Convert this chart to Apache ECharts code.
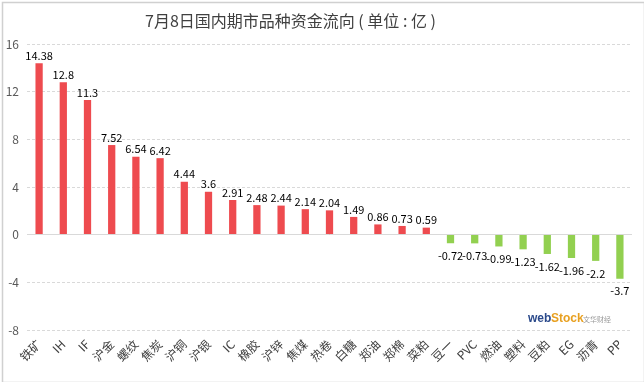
<!DOCTYPE html>
<html><head><meta charset="utf-8">
<script src="https://cdn.jsdelivr.net/npm/echarts@6/dist/echarts.min.js"></script>
<style>html,body{margin:0;padding:0;background:#fff}#c{width:644px;height:382px}</style>
</head><body><div id="c"></div>
<script>
const categories = ['铁矿','IH','IF','沪金','螺纹','焦炭','沪铜','沪银','IC','橡胶','沪锌','焦煤','热卷','白糖','郑油','郑棉','菜粕','豆一','PVC','燃油','塑料','豆粕','EG','沥青','PP'];
const values = [14.38,12.8,11.3,7.52,6.54,6.42,4.44,3.6,2.91,2.48,2.44,2.14,2.04,1.49,0.86,0.73,0.59,-0.72,-0.73,-0.99,-1.23,-1.62,-1.96,-2.2,-3.7];
const yTicks = [-8,-4,0,4,8,12,16];
const titleText = '7月8日国内期市品种资金流向 ( 单位 : 亿 )';

const chart = echarts.init(document.getElementById('c'));
chart.setOption({
  animation: false,
  title: { text: titleText, left: 140, top: 8,
    textStyle: { fontSize: 16, fontWeight: 'normal', color: '#404040', fontFamily: 'Noto Sans CJK SC' } },
  grid: { left: 27, right: 12, top: 44, bottom: 52 },
  xAxis: { type: 'category', data: categories,
    axisLine: { show: false }, axisTick: { show: false },
    axisLabel: { rotate: 45, interval: 0, fontSize: 12, color: '#404040', margin: 12, fontFamily: 'Noto Sans CJK SC' } },
  yAxis: { type: 'value', min: yTicks[0], max: yTicks[yTicks.length-1], interval: 4,
    axisLine: { show: false }, axisTick: { show: false },
    axisLabel: { fontSize: 12, color: '#595959', margin: 8, fontFamily: 'Noto Sans CJK SC' },
    splitLine: { lineStyle: { color: '#d9d9d9', type: [3,2] } } },
  series: [{
    type: 'bar', barWidth: '30%',
    data: values.map(v => ({ value: v,
      itemStyle: { color: v >= 0 ? '#EE4B4F' : '#92D050' },
      label: { distance: v >= 0 ? 2 : 7 } })),
    label: { show: true, position: 'outside', fontSize: 11, color: '#000', fontFamily: 'Noto Sans CJK SC',
      formatter: p => String(p.value) },
    markLine: { silent: true, symbol: 'none', label: { show: false },
      lineStyle: { color: '#d9d9d9', type: 'solid', width: 1 }, data: [{ yAxis: 0 }] }
  }],
  graphic: [
    { type: 'rect', left: 0, top: 0, shape: { width: 642, height: 380 }, style: { fill: 'none', stroke: '#d0d0d0', lineWidth: 1.5 } },
    { type: 'text', left: 528, top: 313, style: { text: 'web', fill: '#2b4a8b', font: 'bold 12px Arial' } },
    { type: 'text', left: 551, top: 313, style: { text: 'Stock', fill: '#e8a020', font: 'bold 12px Arial' } },
    { type: 'text', left: 583, top: 316, style: { text: '文华财经', fill: '#999', font: '7px "Noto Sans CJK SC"' } }
  ]
});
</script></body></html>
